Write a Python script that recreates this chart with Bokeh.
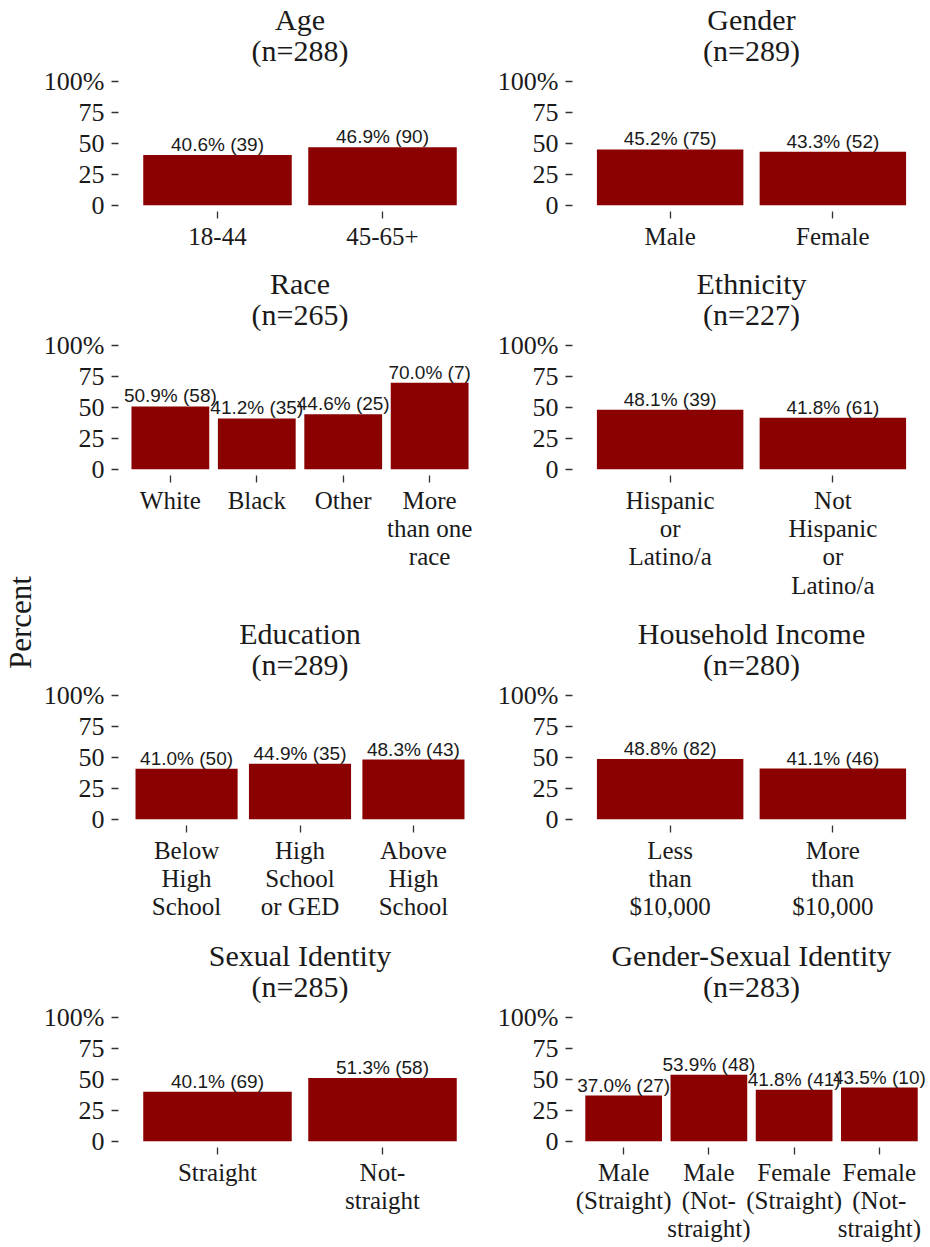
from bokeh.plotting import figure
from bokeh.models import FactorRange, Range1d, FixedTicker, Title, ColumnDataSource
from bokeh.layouts import row, column
from bokeh.embed import file_html
from bokeh.resources import INLINE
from bokeh.core.properties import value

# ---------------- data ----------------
age_cats = ["18-44", "45-65+"]
age_pct = [40.6, 46.9]
age_cnt = [39, 90]
age_n = 288

gender_cats = ["Male", "Female"]
gender_pct = [45.2, 43.3]
gender_cnt = [75, 52]
gender_n = 289

race_cats = ["White", "Black", "Other", "More\nthan one\nrace"]
race_pct = [50.9, 41.2, 44.6, 70.0]
race_cnt = [58, 35, 25, 7]
race_n = 265

eth_cats = ["Hispanic\nor\nLatino/a", "Not\nHispanic\nor\nLatino/a"]
eth_pct = [48.1, 41.8]
eth_cnt = [39, 61]
eth_n = 227

edu_cats = ["Below\nHigh\nSchool", "High\nSchool\nor GED", "Above\nHigh\nSchool"]
edu_pct = [41.0, 44.9, 48.3]
edu_cnt = [50, 35, 43]
edu_n = 289

inc_cats = ["Less\nthan\n$10,000", "More\nthan\n$10,000"]
inc_pct = [48.8, 41.1]
inc_cnt = [82, 46]
inc_n = 280

sex_cats = ["Straight", "Not-\nstraight"]
sex_pct = [40.1, 51.3]
sex_cnt = [69, 58]
sex_n = 285

gs_cats = ["Male\n(Straight)", "Male\n(Not-\nstraight)", "Female\n(Straight)", "Female\n(Not-\nstraight)"]
gs_pct = [37.0, 53.9, 41.8, 43.5]
gs_cnt = [27, 48, 41, 10]
gs_n = 283

y_ticks = [0, 25, 50, 75, 100]
y_tick_labels = ["0", "25", "50", "75", "100%"]

# ---------------- style ----------------
SERIF = "Liberation Serif"
SANS = "Liberation Sans"
BAR = "#8B0000"
TXT = "#1a1a1a"
TICK = "#333333"
FRAME_H = 136


def panel(title, n, cats, pcts, cnts, col, top_b, bot_b, x_standoff=4):
    if col == 0:
        fw, lb, rb = 363, 78, 13
    else:
        fw, lb, rb = 358, 78, 0
    src = ColumnDataSource(dict(
        cat=cats, pct=pcts,
        lab=[f"{p:.1f}% ({c})" for p, c in zip(pcts, cnts)],
    ))
    p = figure(
        x_range=FactorRange(factors=cats, range_padding=0.1, range_padding_units="absolute"),
        y_range=Range1d(-5, 105),
        frame_width=fw, frame_height=FRAME_H,
        min_border_left=lb, min_border_right=rb,
        min_border_top=top_b, min_border_bottom=bot_b,
        output_backend="svg", toolbar_location=None,
    )
    p.title = None
    p.add_layout(Title(text=f"(n={n})", align="center", text_font=SERIF,
                       text_font_size="30px", text_font_style="normal",
                       text_color=TXT, standoff=18), "above")
    p.add_layout(Title(text=title, align="center", text_font=SERIF,
                       text_font_size="30px", text_font_style="normal",
                       text_color=TXT, standoff=-26), "above")
    p.vbar(x="cat", top="pct", bottom=0, width=0.9, source=src,
           fill_color=BAR, line_color=None)
    p.text(x="cat", y="pct", text="lab", source=src,
           text_font=value(SANS), text_font_size="19px", text_color=TXT,
           text_align="center", text_baseline="bottom")

    p.outline_line_color = None
    p.xgrid.grid_line_color = None
    p.ygrid.grid_line_color = None
    p.background_fill_color = "white"
    p.border_fill_color = "white"

    for ax in (p.xaxis[0], p.yaxis[0]):
        ax.axis_line_color = None
        ax.major_tick_in = 0
        ax.major_tick_out = 7
        ax.major_tick_line_color = TICK
        ax.major_tick_line_width = 1.3
        ax.minor_tick_line_color = None
        ax.major_label_text_font = SERIF
        ax.major_label_text_color = TXT
    p.xaxis[0].major_label_text_font_size = "25px"
    p.xaxis[0].major_label_text_line_height = 1.05
    p.xaxis[0].major_label_standoff = x_standoff
    p.yaxis[0].major_label_text_font_size = "26px"
    p.yaxis[0].major_label_standoff = 7
    p.yaxis[0].ticker = FixedTicker(ticks=y_ticks)
    p.yaxis[0].major_label_overrides = {t: l for t, l in zip(y_ticks, y_tick_labels)}
    return p


rows_spec = [
    # (top border, bottom border)
    (75, 47),
    (81, 137),
    (77, 108),
    (78, 97),
]

panels = [
    ("Age", age_n, age_cats, age_pct, age_cnt),
    ("Gender", gender_n, gender_cats, gender_pct, gender_cnt),
    ("Race", race_n, race_cats, race_pct, race_cnt),
    ("Ethnicity", eth_n, eth_cats, eth_pct, eth_cnt),
    ("Education", edu_n, edu_cats, edu_pct, edu_cnt),
    ("Household Income", inc_n, inc_cats, inc_pct, inc_cnt),
    ("Sexual Identity", sex_n, sex_cats, sex_pct, sex_cnt),
    ("Gender-Sexual Identity", gs_n, gs_cats, gs_pct, gs_cnt),
]

grid_rows = []
for r, (tb, bb) in enumerate(rows_spec):
    a = panel(*panels[2 * r], 0, tb, bb, x_standoff=(9 if r == 0 else 4))
    b = panel(*panels[2 * r + 1], 1, tb, bb)
    grid_rows.append(row(a, b, spacing=0))

total_h = sum(tb + FRAME_H + bb for tb, bb in rows_spec)

pct = figure(width=40, height=total_h, output_backend="svg", toolbar_location=None,
             min_border=0, min_border_left=3, x_axis_type=None, y_axis_type=None)
pct.title = None
pct.outline_line_color = None
pct.xgrid.grid_line_color = None
pct.ygrid.grid_line_color = None
pct.add_layout(Title(text="Percent", align="center", text_font=SERIF,
                     text_font_size="31px", text_font_style="normal",
                     text_color=TXT, standoff=0), "left")

layout = row(pct, column(*grid_rows, spacing=0), spacing=0)

open("out.html", "w").write(file_html(layout, INLINE))
